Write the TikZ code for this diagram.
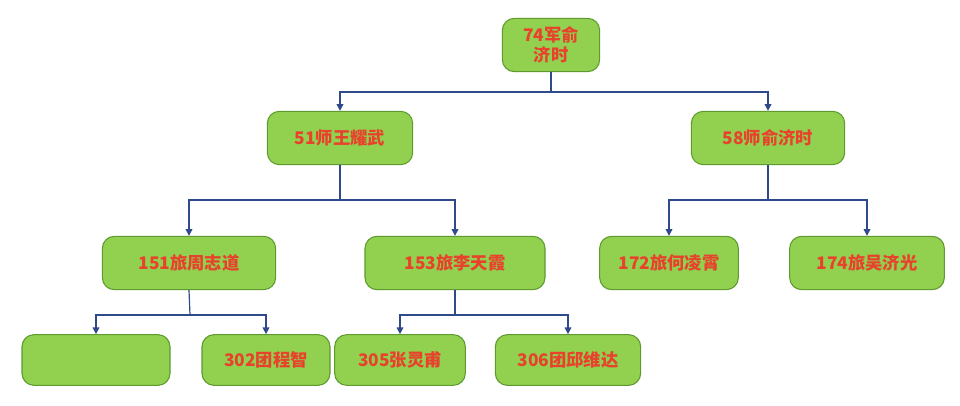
\documentclass[tikz,border=0pt]{standalone}
\usepackage{fontspec}
\newfontfamily\cjk{Noto Sans CJK SC}
\usetikzlibrary{arrows.meta}
\definecolor{boxfill}{HTML}{92D050}
\definecolor{boxline}{HTML}{5E9A2E}
\definecolor{txt}{HTML}{E8412C}
\definecolor{conn}{HTML}{2F4A8A}
\begin{document}
\begin{tikzpicture}[x=0.75pt,y=-0.75pt,
 box/.style={draw=boxline,line width=0.8pt,fill=boxfill,rounded corners=9pt,inner sep=0pt,
   font=\cjk\bfseries\fontsize{13}{15}\selectfont,text=txt,align=center},
 conn/.style={draw=conn,line width=0.9pt},
 arr/.style={conn,-{Triangle[length=5pt,width=5pt]}}]
\useasboundingbox (0,0) rectangle (960,406);
\node[box,minimum width=73pt,minimum height=40pt] (r) at (551,45) {74军俞\\济时};
\node[box,minimum width=109pt,minimum height=40pt] (a) at (340,138) {51师王耀武};
\node[box,minimum width=115pt,minimum height=40pt] (b) at (768,138) {58师俞济时};
\node[box,minimum width=130pt,minimum height=40pt] (a1) at (189,263) {151旅周志道};
\node[box,minimum width=135pt,minimum height=40pt] (a2) at (455,263) {153旅李天霞};
\node[box,minimum width=104pt,minimum height=40pt] (b1) at (669,263) {172旅何凌霄};
\node[box,minimum width=116pt,minimum height=40pt] (b2) at (867,263) {174旅吴济光};
\node[box,minimum width=111pt,minimum height=38pt] (c1) at (96,360) {};
\node[box,minimum width=96pt,minimum height=38pt] (c2) at (266,360) {302团程智};
\node[box,minimum width=98pt,minimum height=38pt] (c3) at (400,360) {305张灵甫};
\node[box,minimum width=109pt,minimum height=38pt] (c4) at (568,360) {306团邱维达};
\coordinate (j0) at (551,92);
\coordinate (j1) at (340,200);
\coordinate (j2) at (768,200);
\coordinate (j3) at (190,315);
\coordinate (j4) at (455,315);
\draw[conn] (r.south) -- (j0);
\draw[arr] (j0) -| (a.north);
\draw[arr] (j0) -| (b.north);
\draw[conn] (a.south) -- (j1);
\draw[arr] (j1) -| (a1.north);
\draw[arr] (j1) -| (a2.north);
\draw[conn] (b.south) -- (j2);
\draw[arr] (j2) -| (b1.north);
\draw[arr] (j2) -| (b2.north);
\draw[conn] (a1.south) -- (j3);
\draw[arr] (j3) -| (c1.north);
\draw[arr] (j3) -| (c2.north);
\draw[conn] (a2.south) -- (j4);
\draw[arr] (j4) -| (c3.north);
\draw[arr] (j4) -| (c4.north);
\end{tikzpicture}
\end{document}
